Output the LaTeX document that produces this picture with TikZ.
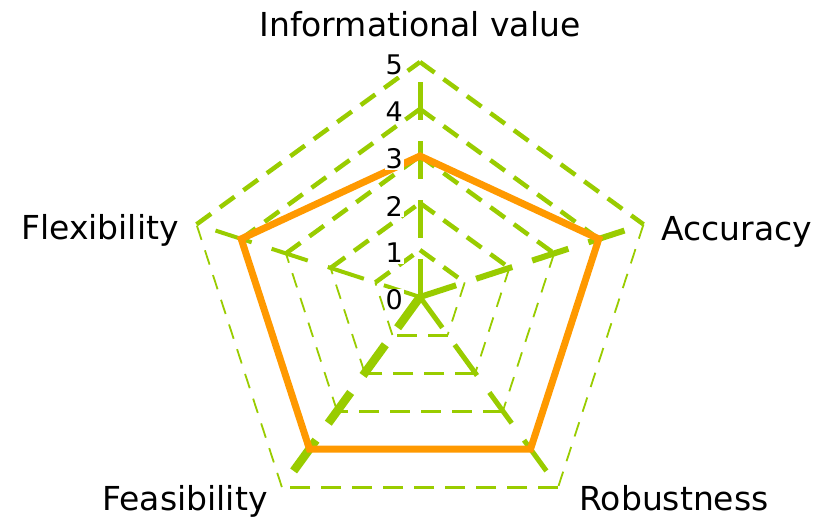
\documentclass[tikz,border=0pt]{standalone}
\usepackage{fontspec}
\setmainfont{DejaVu Sans}
\usetikzlibrary{calc}
\definecolor{chartgreen}{RGB}{153,204,0}
\definecolor{chartorange}{RGB}{255,153,0}
\tikzstyle{gridtop} = [chartgreen, line width=4.5pt, dash pattern=on 18pt off 11pt]
\tikzstyle{gridside} = [chartgreen, line width=1.8pt, dash pattern=on 15pt off 11pt]
\tikzstyle{gridbottom} = [chartgreen, line width=3pt, dash pattern=on 20pt off 11pt]
\tikzstyle{spoke} = [chartgreen, dash pattern=on 38pt off 21pt]
\tikzstyle{series} = [chartorange, line width=7pt, line join=miter]
\tikzstyle{axislabel} = [inner sep=0pt, anchor=base, font=\fontsize{33}{40}\selectfont]
\tikzstyle{ticklabel} = [fill=white, inner sep=1pt, anchor=east, font=\fontsize{27}{32}\selectfont]

\begin{document}
\begin{tikzpicture}[x=1pt,y=1pt]
    \useasboundingbox (0,0) rectangle (832,519);
    \coordinate (centre) at (420,222);
    % grid corners g<level>-<axis>, clockwise from the top
    \foreach \k in {1,...,5} {
        \foreach \i/\a in {0/90,1/18,2/-54,3/-126,4/162}
            \coordinate (g\k-\i) at ($(centre)+(\a:47*\k)$);
    }
    
    \foreach \k in {1,...,5} {
        \draw [gridtop] (g\k-0) -- (g\k-1);
        \draw [gridside] (g\k-1) -- (g\k-2);
        \draw [gridbottom] (g\k-2) -- (g\k-3);
        \draw [gridside] (g\k-3) -- (g\k-4);
        \draw [gridtop] (g\k-4) -- (g\k-0);
    }
    \foreach \i/\w in {0/5,1/6,2/5,3/8.5,4/4}
        \draw [spoke, line width=\w pt] (centre) -- (g5-\i);
    
    % the one data series: 3, 4, 4, 4, 4
    \draw [series] (g3-0) -- (g4-1) -- (g4-2) -- (g4-3) -- (g4-4) -- cycle;
    
    \foreach \k in {0,...,5}
        \node (tick\k) [ticklabel] at (404,219+47*\k) {\k};
    
    \node (info) [axislabel] at (420,482) {Informational value};
    \node (acc) [axislabel] at (737,278) {Accuracy};
    \node (flex) [axislabel] at (100,279) {Flexibility};
    \node (feas) [axislabel] at (185,9) {Feasibility};
    \node (rob) [axislabel] at (674,9) {Robustness};
\end{tikzpicture}
\end{document}
